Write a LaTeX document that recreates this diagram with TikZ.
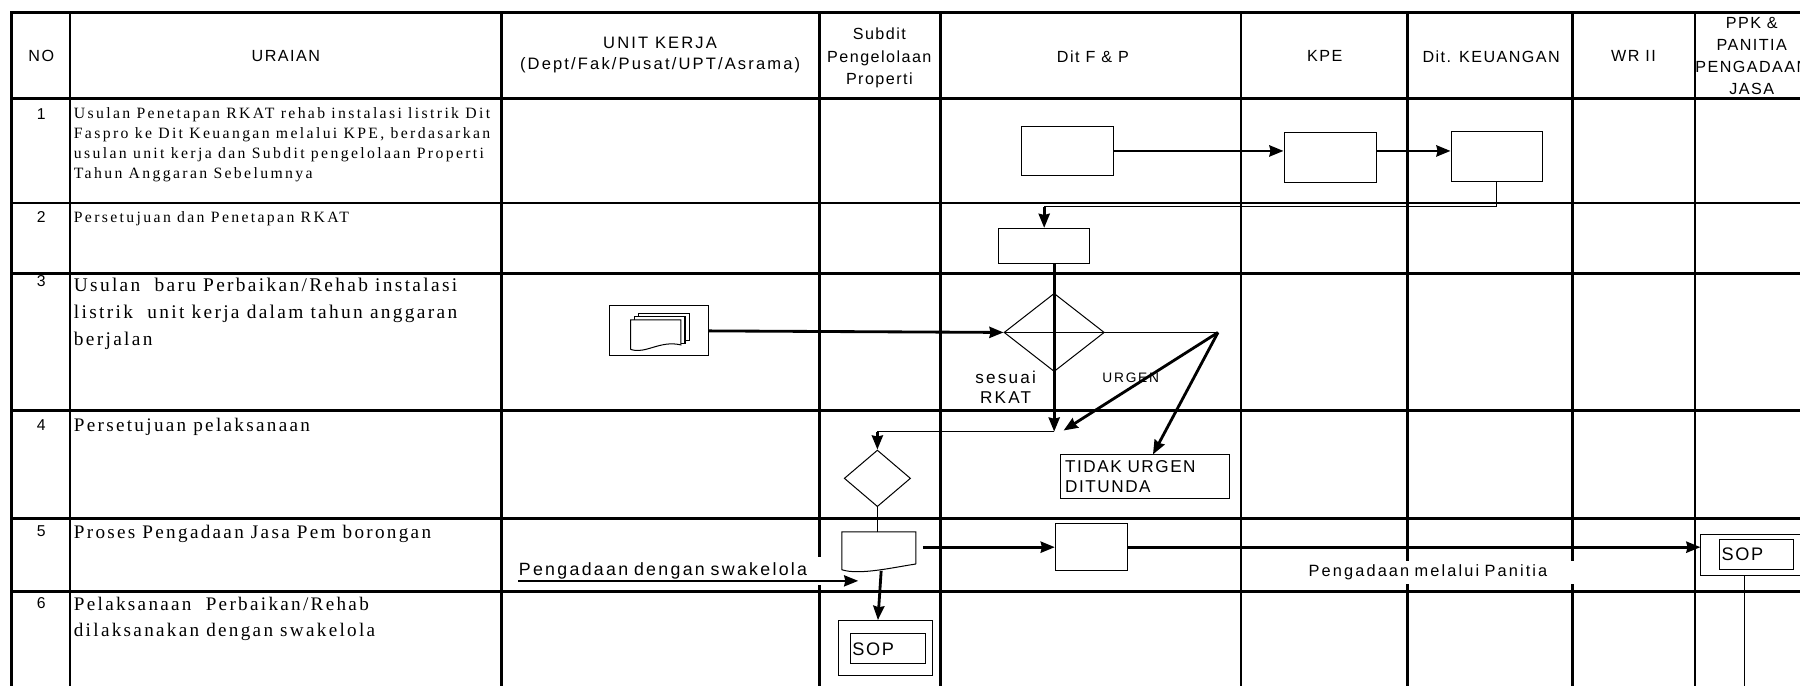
\documentclass[tikz,border=0pt]{standalone}
\usepackage{fontspec}
\setmainfont{Liberation Serif}
\newfontfamily\hdrfont[LetterSpace=9]{Liberation Sans}
\newfontfamily\notefont[LetterSpace=13]{Liberation Sans}
\newfontfamily\txtfont[LetterSpace=12]{Liberation Serif}
\newfontfamily\txtwide[LetterSpace=15]{Liberation Serif}
\usetikzlibrary{shapes.geometric,calc,arrows.meta}
\tikzset{
	gridline/.style={line width=1.3pt,line cap=rect},
	procbox/.style={draw,line width=0.5pt,inner sep=0pt},
	decbox/.style={draw,diamond,line width=0.5pt,inner sep=0pt},
	flow/.style={line width=1.4pt,-{Stealth[length=7pt,width=5.5pt,inset=0.6pt]}},
	link/.style={line width=0.5pt},
	hdr/.style={inner sep=0pt,align=center,font=\hdrfont\fontsize{8}{10}\selectfont},
	numtxt/.style={inner sep=0pt,font=\hdrfont\fontsize{7.8}{9}\selectfont},
	uraian/.style={inner sep=0pt,anchor=north west,align=left,font=\txtfont\fontsize{9.5}{12}\selectfont},
	note/.style={inner sep=0pt,font=\notefont\fontsize{8.5}{9.8}\selectfont}
}
\begin{document}
\begin{tikzpicture}[x=0.02cm,y=-0.02cm]
	\useasboundingbox (0,0) rectangle (1568,597);
	\clip (0,0) rectangle (1568,597);
	\fill[white] (0,0) rectangle (1568,597);
	\foreach \y in {11,86,177,238,357.5,451.5,515}
		\draw[gridline] (10,\y)--(1600,\y);
	\foreach \x in {10,61,437,714,819.5,1081,1226,1370,1476.5}
		\draw[gridline] (\x,11)--(\x,620);

	\node[hdr] (hno) at (36,49) {NO};
	\node[hdr] (hur) at (249,49) {URAIAN};
	\node[hdr,font=\notefont\fontsize{8.2}{10}\selectfont] (hunit) at (575,48) {UNIT KERJA\\(Dept/Fak/Pusat/UPT/Asrama)};
	\node[hdr,font=\hdrfont\fontsize{8}{11.3}\selectfont] (hsub) at (766,50.5) {Subdit\\Pengelolaan\\Properti};
	\node[hdr] (hfp) at (952,49) {Dit F \& P};
	\node[hdr] (hkpe) at (1154,49) {KPE};
	\node[hdr] (hkeu) at (1299,49) {Dit. KEUANGAN};
	\node[hdr] (hwr) at (1423,49) {WR II};
	\node[hdr,font=\hdrfont\fontsize{8}{11}\selectfont] (hppk) at (1526,48.7) {PPK \&\\PANITIA\\PENGADAAN\\JASA};

	\node[numtxt] (n1) at (36,99) {1};
	\node[numtxt] (n2) at (36,188.7) {2};
	\node[numtxt] (n3) at (36,245) {3};
	\node[numtxt] (n4) at (36,370) {4};
	\node[numtxt] (n5) at (36,463) {5};
	\node[numtxt] (n6) at (36,525) {6};

	\node[uraian,font=\txtwide\fontsize{7.8}{9.9}\selectfont] (u1) at (64,93.3) {Usulan Penetapan RKAT rehab instalasi listrik Dit\\Faspro ke Dit Keuangan melalui KPE, berdasarkan\\usulan unit kerja dan Subdit pengelolaan Properti\\Tahun Anggaran Sebelumnya};
	\node[uraian,font=\txtwide\fontsize{7.8}{9}\selectfont] (u2) at (64,184) {Persetujuan dan Penetapan RKAT};
	\node[uraian,font=\txtfont\fontsize{9.6}{13.6}\selectfont] (u3) at (64,241.5) {Usulan~ baru Perbaikan/Rehab instalasi\\listrik~ unit kerja dalam tahun anggaran\\berjalan};
	\node[uraian] (u4) at (64,364) {Persetujuan pelaksanaan};
	\node[uraian] (u5) at (64,457) {Proses Pengadaan Jasa Pem borongan};
	\node[uraian,font=\txtfont\fontsize{9.5}{12.9}\selectfont] (u6) at (64,520) {Pelaksanaan~ Perbaikan/Rehab\\dilaksanakan dengan swakelola};

	\node[procbox,minimum width=1.6cm,minimum height=0.86cm] (fpa) at (930,131.5) {};
	\node[procbox,minimum width=1.62cm,minimum height=0.87cm] (kpe) at (1159,137.3) {};
	\node[procbox,minimum width=1.6cm,minimum height=0.87cm] (keu) at (1304,136.2) {};
	\draw[flow] (fpa.east)--(fpa.east -| kpe.west);
	\draw[flow] (fpa.east -| kpe.east)--(fpa.east -| keu.west);

	\node[procbox,minimum width=1.59cm,minimum height=0.61cm] (rkat) at (909.6,214.2) {};
	\coordinate (ret) at (909.6,180);
	\draw[link] (keu.south)|-(ret);
	\draw[flow] (ret)--(rkat.north);

	\node[procbox,minimum width=1.726cm,minimum height=0.87cm] (mdoc) at (573.85,288.25) {};
	\filldraw[fill=white,line width=0.5pt] (556.5,272.9) rectangle (600.2,296.2);
	\filldraw[fill=white,line width=0.5pt] (553,275.8) rectangle (596.7,299);
	\filldraw[fill=white,line width=0.5pt] (549.3,304.3)--(549.3,278.7)--(593.2,278.7)--(593.2,300.5) .. controls (575,296) and (562,309) .. (549.3,304.3);

	\node[decbox,minimum width=1.748cm,minimum height=1.364cm] (dec1) at (918.3,289.6) {};
	\node[decbox,minimum width=1.156cm,minimum height=0.986cm] (dec2) at (764.3,416.7) {};
	\node[procbox,minimum width=2.938cm,minimum height=0.754cm,text width=2.78cm,align=left,font=\hdrfont\fontsize{8.5}{9.8}\selectfont] (tidak) at (997.35,415.15) {TIDAK URGEN\\DITUNDA};
	\coordinate (fork) at (1061,289.6);
	\coordinate (join) at (918.3,376);
	\coordinate (urg) at (926.5,375);
	\draw[flow] (mdoc.east)--(dec1.west);
	\draw[link] (dec1.west)--(fork);
	\draw[flow] (dec1.north |- rkat.south)--(join);
	\draw[flow] (fork)--(urg);
	\draw[flow] (fork)--($(tidak.north)+(7,0)$);
	\node[note,align=center] (sesuai) at (876,337.5) {sesuai\\RKAT};
	\node[note,font=\notefont\fontsize{6.8}{8}\selectfont] (urgen) at (985,329.5) {URGEN};
	\draw[link] (join)--(join -| dec2.north);
	\draw[flow] (join -| dec2.north)--(dec2.north);

	\node[minimum width=1.278cm,minimum height=0.666cm,inner sep=0pt] (docb) at (765.6,480.3) {};
	\draw[line width=0.5pt] ($(docb.south east)+(0,-6)$)--(docb.north east)--(docb.north west)--($(docb.south west)+(0,-1)$) .. controls +(15,5) and +(-20,3) .. ($(docb.south east)+(0,-6)$);
	\draw[link] (dec2.south)--(dec2.south |- docb.north);
	\node[procbox,minimum width=1.254cm,minimum height=0.826cm] (fpb) at (950.65,476.65) {};
	\node[procbox,minimum width=1.866cm,minimum height=0.714cm] (ppsop) at (1528.35,483.85) {};
	\node[procbox,minimum width=1.288cm,minimum height=0.514cm,text width=1.2cm,align=left,font=\hdrfont\fontsize{9}{10}\selectfont] (ppsopin) at (1529.7,483.15) {SOP};
	\draw[flow] ($(docb.east |- fpb.west)+(6,0)$)--(fpb.west);
	\draw[flow] (fpb.east)--(fpb.east -| ppsop.west);
	\coordinate (ppend) at (1520,600);
	\draw[link] (ppend |- ppsop.south)--(ppend);
	\node[fill=white,minimum width=5.4cm,minimum height=0.49cm,text width=5.2cm,align=left,inner sep=0pt,font=\notefont\fontsize{8.8}{9.8}\selectfont] (swk) at (582,497.3) {Pengadaan dengan swakelola};
	\coordinate (swkend) at (747.6,506);
	\draw[flow,line width=1pt] ($(swk.west |- swkend)+(4.7,0)$)--(swkend);
	\node[fill=white,minimum width=4.74cm,minimum height=0.4cm,text width=4.58cm,align=left,inner sep=0pt,font=\notefont\fontsize{8.1}{9}\selectfont] (panitia) at (1254.5,498.6) {Pengadaan melalui Panitia};

	\node[procbox,minimum width=1.654cm,minimum height=0.964cm] (sop) at (771.35,564.7) {};
	\node[procbox,minimum width=1.3cm,minimum height=0.522cm,text width=1.24cm,align=left,font=\hdrfont\fontsize{9}{10}\selectfont] (sopin) at (773.5,565.25) {SOP};
	\draw[flow] ($(docb.south)+(2,0)$)--($(sop.north)+(-6.6,0)$);
\end{tikzpicture}
\end{document}
